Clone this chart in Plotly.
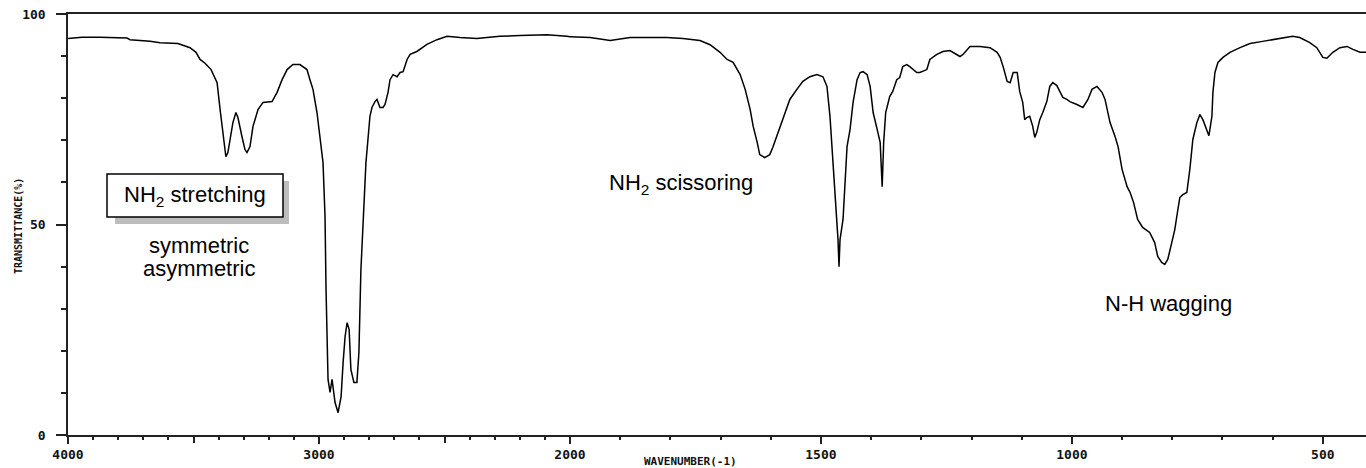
import plotly.graph_objects as go

# IR spectrum (transmittance %)
wavenumber = [
    4000, 3944, 3873, 3833, 3793, 3765, 3753, 3701, 3673, 3633, 3562, 3514, 3490, 3474, 3454, 3430,
    3414, 3406, 3394, 3382, 3371, 3363, 3355, 3343, 3331, 3323, 3307, 3295, 3287, 3275, 3263, 3243,
    3223, 3187, 3167, 3147, 3127, 3104, 3076, 3048, 3036, 3024, 3008, 2996, 2984, 2976, 2972, 2964,
    2956, 2948, 2944, 2936, 2924, 2912, 2904, 2896, 2888, 2880, 2873, 2861, 2849, 2841, 2833, 2825,
    2813, 2805, 2797, 2789, 2777, 2769, 2757, 2745, 2737, 2725, 2717, 2705, 2689, 2677, 2665, 2649,
    2637, 2610, 2570, 2530, 2490, 2438, 2371, 2331, 2279, 2199, 2092, 2012, 2000,
    1960, 1920, 1880, 1841, 1807, 1775, 1741, 1721, 1701, 1687, 1675, 1661, 1651, 1641, 1635, 1627,
    1622, 1612, 1602, 1596, 1588, 1582, 1572, 1562, 1548, 1536, 1522, 1508, 1496, 1488, 1482, 1476,
    1470, 1466, 1464, 1462, 1456, 1452, 1448, 1442, 1436, 1428, 1422, 1416, 1408, 1402, 1396, 1388,
    1382, 1378, 1375, 1371, 1363, 1357, 1349, 1343, 1337, 1329, 1323, 1309, 1303, 1289, 1283, 1269,
    1257, 1243, 1229, 1223, 1217, 1209, 1203, 1183, 1163, 1149, 1143, 1137, 1129, 1123, 1117, 1109,
    1104, 1098, 1094, 1090, 1084, 1078, 1074, 1070, 1064, 1058, 1050, 1044, 1038, 1030, 1024, 1018,
    1010, 1004, 990, 978, 968, 960, 950, 940, 934, 924, 914, 908, 900, 890, 884, 877,
    869, 859, 845, 835, 829, 821, 815, 809, 801, 795, 791, 785, 779, 771, 765, 759,
    751, 745, 739, 731, 727, 721, 719, 715, 709, 699, 685, 665, 645, 620, 586, 560,
    546, 526, 512, 500, 492, 480, 466, 452, 440, 426, 414,
]
transmittance = [
    94.2, 94.5, 94.5, 94.4, 94.3, 94.3, 93.9, 93.7, 93.5, 93.2, 93.0, 92.0, 90.9, 89.2, 88.3, 86.8,
    84.9, 83.7, 77.3, 70.9, 66.1, 67.1, 70.2, 74.2, 76.6, 75.4, 70.9, 67.8, 67.1, 68.5, 73.3, 77.3,
    79.0, 79.2, 81.4, 84.4, 86.8, 88.0, 88.0, 86.8, 84.4, 82.1, 76.6, 70.2, 64.7, 51.9, 34.6, 13.2,
    10.1, 13.2, 10.8, 7.7, 5.3, 9.1, 17.2, 23.4, 26.7, 25.1, 15.6, 12.5, 12.5, 19.6, 39.3, 48.8,
    64.7, 70.2, 75.7, 77.8, 79.2, 79.7, 77.8, 77.8, 78.5, 81.4, 84.4, 85.6, 85.1, 86.1, 86.3, 89.2,
    90.4, 91.1, 92.8, 93.9, 94.7, 94.4, 94.2, 94.4, 94.7, 94.9, 95.1, 94.7, 94.6,
    94.4, 93.7, 94.4, 94.4, 94.4, 94.2, 93.7, 92.7, 90.9, 89.2, 88.5, 85.6, 82.1, 77.3, 73.3, 69.5,
    66.6, 65.9, 66.6, 68.3, 70.9, 73.3, 76.6, 79.7, 82.1, 84.0, 85.1, 85.6, 85.1, 82.8, 75.7, 64.7,
    55.2, 46.4, 40.0, 46.4, 51.2, 60.7, 68.5, 72.6, 79.0, 84.4, 86.1, 86.3, 85.6, 82.8, 76.6, 72.6,
    69.5, 59.0, 69.5, 76.6, 80.4, 81.6, 84.4, 84.9, 87.5, 88.0, 87.5, 86.1, 86.1, 86.8, 89.2, 90.4,
    91.1, 91.3, 90.4, 89.9, 90.4, 91.6, 92.3, 92.3, 92.0, 90.9, 89.7, 87.5, 84.0, 83.7, 86.1, 86.1,
    81.6, 79.0, 74.9, 75.4, 75.7, 73.3, 70.7, 71.9, 74.9, 76.6, 79.2, 82.8, 83.7, 83.0, 81.4, 80.2,
    79.7, 79.2, 78.5, 77.8, 79.7, 82.1, 82.8, 81.4, 79.7, 74.2, 70.9, 68.5, 63.1, 59.0, 57.6, 55.2,
    51.2, 49.3, 48.1, 45.7, 42.4, 41.0, 40.5, 41.7, 45.7, 48.8, 51.9, 56.4, 57.1, 57.6, 63.1, 70.2,
    74.2, 76.1, 74.9, 72.6, 71.1, 75.7, 81.4, 86.1, 88.5, 89.7, 90.9, 92.0, 93.0, 93.5, 94.2, 94.7,
    94.4, 93.2, 92.0, 89.7, 89.5, 90.9, 92.0, 92.3, 91.6, 90.9, 90.9,
]

x_ticks_hi = [4000, 3000, 2000]
x_labels_hi = ["4000", "3000", "2000"]
x_mid_ticks = [3500, 2500]
x_ticks_lo = [1500, 1000, 500]
x_labels_lo = ["1500", "1000", "500"]
y_ticks = [0, 50, 100]
y_labels = ["0", "50", "100"]

# split at 2000 cm-1 (scale changes there)
hi = [(w, t) for w, t in zip(wavenumber, transmittance) if w >= 2000]
lo = [(w, t) for w, t in zip(wavenumber, transmittance) if w <= 2000]

W, H = 1366, 468
L, R, T, B = 68, 0, 14, 33
pw, ph = W - L - R, H - T - B


def px(p):
    return (p - L) / pw


def py(p):
    return (H - B - p) / ph


split = px(570)
line = dict(color="#000000", width=1.5)

fig = go.Figure()
fig.add_trace(go.Scatter(x=[a for a, _ in hi], y=[b for _, b in hi], mode="lines",
                         line=line, xaxis="x", yaxis="y", showlegend=False, hoverinfo="skip"))
fig.add_trace(go.Scatter(x=[a for a, _ in lo], y=[b for _, b in lo], mode="lines",
                         line=line, xaxis="x2", yaxis="y", showlegend=False, hoverinfo="skip"))
# invisible trace that carries the unlabelled 3500 / 2500 ticks
fig.add_trace(go.Scatter(x=[], y=[], xaxis="x3", yaxis="y", showlegend=False, hoverinfo="skip"))

tickfont = dict(family="DejaVu Sans Mono", size=13, color="#111111", weight="bold")
minor_style = dict(ticklen=3, ticks="outside", tickcolor="#222222", tickwidth=1.5)
axis_common = dict(showline=True, linecolor="#222222", linewidth=1.5, ticks="outside",
                   tickcolor="#222222", tickwidth=1.5, showgrid=False, zeroline=False,
                   tickfont=tickfont, automargin=False)

fig.update_layout(
    width=W, height=H, autosize=False,
    margin=dict(l=L, r=R, t=T, b=B, pad=0, autoexpand=False),
    paper_bgcolor="white", plot_bgcolor="white",
    xaxis=dict(domain=[0, split], range=[4000, 2000], tickmode="array",
               tickvals=x_ticks_hi, ticktext=x_labels_hi, ticklen=7, mirror=True,
               minor=dict(tickmode="array", tickvals=list(range(2100, 4000, 100)), **minor_style),
               anchor="y", **axis_common),
    xaxis3=dict(overlaying="x", range=[4000, 2000], tickmode="array", tickvals=x_mid_ticks,
                showticklabels=False, ticks="outside", ticklen=7, tickwidth=1.5,
                tickcolor="#222222", showline=False, showgrid=False, zeroline=False,
                anchor="y", side="bottom", automargin=False),
    xaxis2=dict(domain=[split, 1], range=[2000, 414], tickmode="array",
                tickvals=x_ticks_lo, ticktext=x_labels_lo, ticklen=7, mirror=True,
                minor=dict(tickmode="array", tickvals=list(range(500, 2000, 100)), **minor_style),
                anchor="y", **axis_common),
    yaxis=dict(domain=[0, 1], range=[0, 100], tickmode="array", tickvals=y_ticks,
               ticktext=y_labels, ticklen=10, ticklabelstandoff=8,
               minor=dict(tickmode="array", tickvals=list(range(10, 100, 10)),
                          ticklen=5, ticks="outside", tickcolor="#222222", tickwidth=1.5),
               anchor="x", **axis_common),
)

# "NH2 stretching" box with shaded shadow
fig.add_shape(type="rect", xref="paper", yref="paper",
              x0=px(115), x1=px(289), y0=py(224), y1=py(181),
              fillcolor="#bdbdbd", line=dict(width=0), layer="above")
fig.add_shape(type="rect", xref="paper", yref="paper",
              x0=px(107), x1=px(283), y0=py(217), y1=py(174),
              fillcolor="white", line=dict(color="#000000", width=1.5), layer="above")

label_font = dict(family="Liberation Sans, Arial", size=22, color="#000000")
ann = [
    ("NH<sub>2</sub> stretching", 195, 196),
    ("symmetric", 199, 245),
    ("asymmetric", 199, 268),
    ("NH<sub>2</sub> scissoring", 681, 184),
    ("N-H wagging", 1168, 303),
]
for text, x, y in ann:
    fig.add_annotation(text=text, xref="paper", yref="paper", x=px(x), y=py(y),
                       xanchor="center", yanchor="middle", showarrow=False, font=label_font)

fig.add_annotation(text="TRANSMITTANCE(%)", xref="paper", yref="paper", x=px(18), y=py(226),
                   textangle=-90, xanchor="center", yanchor="middle", showarrow=False,
                   font=dict(family="DejaVu Sans Mono", size=10, color="#111111", weight="bold"))
fig.add_annotation(text="WAVENUMBER(-1)", xref="paper", yref="paper", x=px(690), y=py(461),
                   xanchor="center", yanchor="middle", showarrow=False,
                   font=dict(family="DejaVu Sans Mono", size=11, color="#111111", weight="bold"))

fig.write_html("out.html", config={"responsive": False, "displayModeBar": False})
